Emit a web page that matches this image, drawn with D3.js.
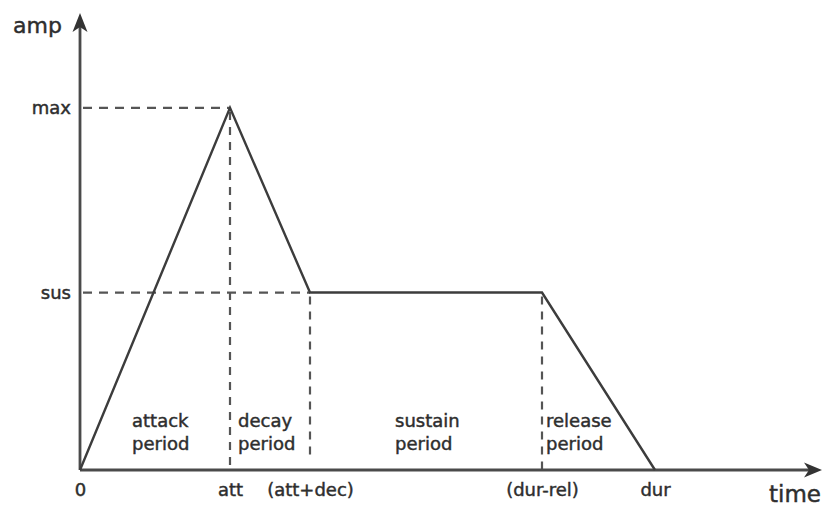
<!DOCTYPE html>
<html>
<head>
<meta charset="utf-8">
<script src="https://cdn.jsdelivr.net/npm/d3@7"></script>
<style>
  html, body { margin: 0; padding: 0; background: #ffffff; }
  svg { display: block; }
  text { font-family: "DejaVu Sans", sans-serif; fill: #2e2e2e; stroke: #2e2e2e; stroke-width: 0.45px; }
</style>
</head>
<body>
<svg id="chart" width="824" height="508"></svg>
<script>
// ---- data ----
const timeNames  = ["0", "att", "(att+dec)", "(dur-rel)", "dur"];
const timeValues = [0, 3.0, 4.6, 9.24, 11.5];
const ampNames   = ["max", "sus"];
const ampValues  = [1.0, 0.49];
const envelopeTimes = [0, 3.0, 4.6, 9.24, 11.5];
const envelopeAmps  = [0, 1.0, 0.49, 0.49, 0];
const periodNames = [["attack", "period"], ["decay", "period"], ["sustain", "period"], ["release", "period"]];
const periodStarts = [0, 3.0, 4.6, 9.24];
const timeMax = 14.84;
const ampMax = 1.262;

// ---- layout ----
const svg = d3.select("#chart");
const x = d3.scaleLinear().domain([0, timeMax]).range([80, 822]);
const y = d3.scaleLinear().domain([0, ampMax]).range([470, 13]);
const lineCol = "#4a4a4a";

// dashed guide lines
const g = svg.append("g");
const hGuides = [
  {a: ampValues[0], t: envelopeTimes[1]},
  {a: ampValues[1], t: envelopeTimes[2]}
];
g.selectAll("line.hg").data(hGuides).join("line")
  .attr("class", "hg")
  .attr("x1", x(0) + 3).attr("x2", d => x(d.t))
  .attr("y1", d => y(d.a)).attr("y2", d => y(d.a))
  .attr("stroke", "#555").attr("stroke-width", 2.2)
  .attr("stroke-dasharray", "9,7");

const vGuides = [
  {t: envelopeTimes[1], a: envelopeAmps[1], end: 0},
  {t: envelopeTimes[2], a: envelopeAmps[2], end: 0.028},
  {t: envelopeTimes[3], a: envelopeAmps[3], end: 0}
];
g.selectAll("line.vg").data(vGuides).join("line")
  .attr("class", "vg")
  .attr("x1", d => x(d.t)).attr("x2", d => x(d.t))
  .attr("y1", d => y(d.a) + 4).attr("y2", d => y(d.end))
  .attr("stroke", "#555").attr("stroke-width", 2.2)
  .attr("stroke-dasharray", "8,7");

// axes lines
svg.append("line")
  .attr("x1", x(0)).attr("x2", x(timeMax) - 8)
  .attr("y1", y(0)).attr("y2", y(0))
  .attr("stroke", lineCol).attr("stroke-width", 2.8);
svg.append("line")
  .attr("x1", x(0)).attr("x2", x(0))
  .attr("y1", y(0)).attr("y2", y(ampMax) + 8)
  .attr("stroke", lineCol).attr("stroke-width", 2.8);

// arrowheads
const xt = x(timeMax), yb = y(0);
svg.append("path")
  .attr("d", `M${xt},${yb} L${xt - 18},${yb - 7.5} L${xt - 13},${yb} L${xt - 18},${yb + 7.5} Z`)
  .attr("fill", "#333");
const xl = x(0), ytop = y(ampMax);
svg.append("path")
  .attr("d", `M${xl},${ytop} L${xl - 7.5},${ytop + 19} L${xl},${ytop + 14} L${xl + 7.5},${ytop + 19} Z`)
  .attr("fill", "#333");

// envelope
const env = envelopeTimes.map((t, i) => [t, envelopeAmps[i]]);
svg.append("path")
  .datum(env)
  .attr("d", d3.line().x(d => x(d[0])).y(d => y(d[1])))
  .attr("fill", "none")
  .attr("stroke", "#3c3c3c")
  .attr("stroke-width", 2.4)
  .attr("stroke-linejoin", "miter");

// x tick labels
const xAxis = d3.axisBottom(x)
  .tickValues(timeValues)
  .tickFormat((d, i) => timeNames[i])
  .tickSize(0).tickPadding(13);
const xa = svg.append("g").attr("transform", `translate(0,${y(0)})`).call(xAxis);
xa.select(".domain").remove();
xa.selectAll("text").attr("font-size", 18).attr("font-family", "DejaVu Sans, sans-serif").attr("fill", "#2e2e2e");

// y tick labels
const yAxis = d3.axisLeft(y)
  .tickValues(ampValues)
  .tickFormat((d, i) => ampNames[i])
  .tickSize(0).tickPadding(9);
const ya = svg.append("g").attr("transform", `translate(${x(0)},0)`).call(yAxis);
ya.select(".domain").remove();
ya.selectAll("text").attr("font-size", 18).attr("font-family", "DejaVu Sans, sans-serif").attr("fill", "#2e2e2e");

// axis titles
svg.append("text").attr("x", 62).attr("y", 33).attr("text-anchor", "end")
  .attr("font-size", 22).text("amp");
svg.append("text").attr("x", 821).attr("y", 502).attr("text-anchor", "end")
  .attr("font-size", 23).text("time");

// period labels
const periodOffsets = [52, 8, 85, 4];
const pg = svg.selectAll("text.period").data(periodNames).join("text")
  .attr("class", "period")
  .attr("x", (d, i) => x(periodStarts[i]) + periodOffsets[i])
  .attr("y", 427)
  .attr("font-size", 18);
pg.selectAll("tspan").data(d => d).join("tspan")
  .attr("x", function() { return d3.select(this.parentNode).attr("x"); })
  .attr("dy", (d, i) => i === 0 ? 0 : 23)
  .text(d => d);
</script>
</body>
</html>
